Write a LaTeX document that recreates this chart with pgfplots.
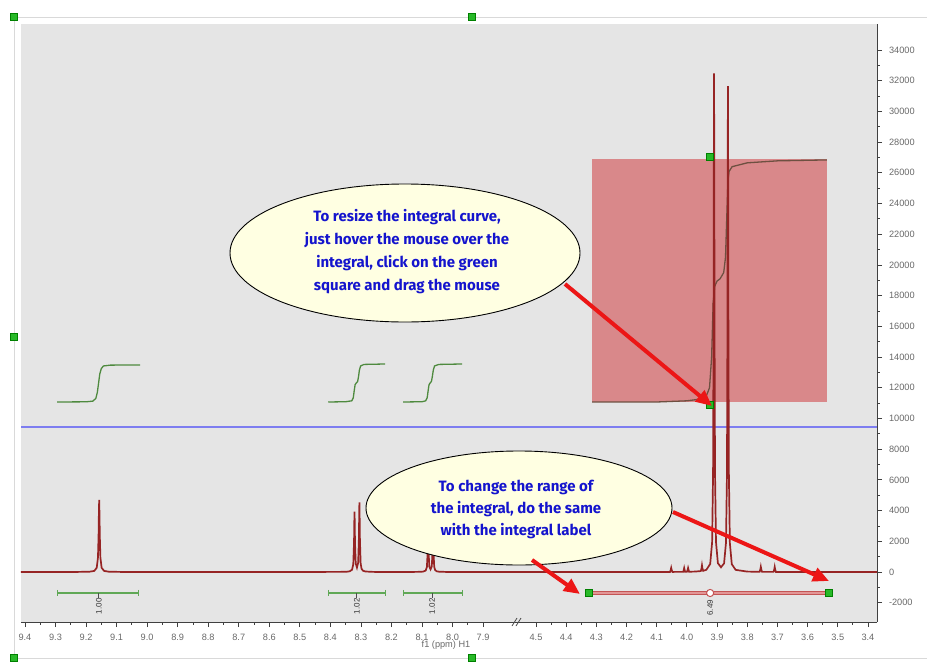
\documentclass[border=0pt]{standalone}
\usepackage{pgfplots}
\pgfplotsset{compat=1.18}
\usetikzlibrary{arrows.meta}
\usepackage{fontspec}
\setmainfont{Liberation Sans}
\newfontfamily\callfont{Fira Sans}

\definecolor{bggray}{RGB}{229,229,229}
\definecolor{specred}{RGB}{150,36,36}
\definecolor{intgreen}{RGB}{78,138,62}
\definecolor{intdark}{RGB}{110,80,65}
\definecolor{bargreen}{RGB}{96,168,86}
\definecolor{pinkfill}{RGB}{217,136,138}
\definecolor{lineblue}{RGB}{125,125,240}
\definecolor{ticklab}{RGB}{105,105,105}
\definecolor{callblue}{RGB}{20,20,205}
\definecolor{ivory}{RGB}{255,255,226}
\definecolor{arrred}{RGB}{236,22,22}
\definecolor{handle}{RGB}{40,185,40}
\definecolor{barred}{RGB}{196,84,84}
\definecolor{barpink}{RGB}{226,150,150}

\pgfplotsset{
  nmr/.style={
    scale only axis, anchor=north west,
    height=299pt, ymin=-3257, ymax=35693,
    x dir=reverse,
    axis background/.style={fill=bggray},
    axis x line*=bottom,
    tick align=outside,
    major tick length=2.5pt, minor tick length=1.4pt,
    tick style={draw=black!75, line width=0.4pt},
    axis line style={draw=black!75, line width=0.5pt},
    tick label style={font=\fontsize{4.6}{5}\selectfont, text=ticklab},
    /pgf/number format/assume math mode=true,
    xticklabel style={/pgf/number format/.cd, fixed, fixed zerofill, precision=1},
    minor x tick num=1,
    scaled y ticks=false,
  },
}

\begin{document}
\begin{tikzpicture}
% left part of the broken ppm axis
\begin{axis}[nmr, at={(10.5pt,-12pt)}, width=248pt,
  xmin=7.789, xmax=9.413,
  xtick={7.9,8.0,8.1,8.2,8.3,8.4,8.5,8.6,8.7,8.8,8.9,9.0,9.1,9.2,9.3,9.4},
  axis y line=none]
\addplot[lineblue, line width=0.6pt] coordinates {(7.789,9446) (9.413,9446)};
% integrals
\addplot[intgreen, line width=0.65pt] coordinates {
 (9.295,11073) (9.20,11085) (9.178,11130) (9.168,11300) (9.163,11700)
 (9.159,12300) (9.155,12900) (9.150,13250) (9.143,13420) (9.12,13475) (9.023,13483)};
\addplot[intgreen, line width=0.65pt] coordinates {
 (8.407,11073) (8.35,11090) (8.33,11150) (8.325,11350) (8.322,11800) (8.319,12200)
 (8.315,12320) (8.311,12400) (8.308,12700) (8.305,13150) (8.301,13420) (8.29,13520) (8.221,13548)};
\addplot[intgreen, line width=0.65pt] coordinates {
 (8.162,11073) (8.10,11090) (8.088,11150) (8.083,11350) (8.080,11800) (8.077,12200)
 (8.073,12320) (8.069,12420) (8.066,12750) (8.063,13150) (8.059,13420) (8.045,13520) (7.969,13548)};
% spectrum
\addplot[specred, line width=0.85pt] coordinates {
 (7.789,0) (8.019,4) (8.044,19) (8.052,47) (8.057,125) (8.060,335) (8.0625,1318)
 (8.0633,2155) (8.064,2622) (8.0648,2049) (8.0655,1326) (8.068,359) (8.072,173)
 (8.076,348) (8.0785,1278) (8.0793,2077) (8.080,2523) (8.0808,1968) (8.0815,1269)
 (8.084,322) (8.088,95) (8.096,28) (8.104,13) (8.129,5) (8.2,2)
 (8.26,7) (8.285,32) (8.293,80) (8.298,214) (8.301,578) (8.3035,2278) (8.3043,3726)
 (8.305,4534) (8.3058,3543) (8.3065,2291) (8.309,616) (8.313,286) (8.317,550)
 (8.3195,1998) (8.3203,3246) (8.321,3939) (8.3218,3073) (8.3225,1983) (8.325,506)
 (8.329,150) (8.337,44) (8.345,21) (8.37,8) (8.6,1)
 (9.077,3) (9.125,18) (9.141,72) (9.149,276) (9.153,940) (9.155,2350) (9.156,3760)
 (9.157,4700) (9.158,3760) (9.159,2350) (9.161,940) (9.165,276) (9.173,72)
 (9.189,18) (9.237,3) (9.413,0)};
% integral label bars
\addplot[bargreen, line width=0.6pt, mark=|, mark size=1.6pt, mark options={line width=0.5pt}]
 coordinates {(9.295,-1368) (9.027,-1368)};
\addplot[bargreen, line width=0.6pt, mark=|, mark size=1.6pt, mark options={line width=0.5pt}]
 coordinates {(8.407,-1368) (8.218,-1368)};
\addplot[bargreen, line width=0.6pt, mark=|, mark size=1.6pt, mark options={line width=0.5pt}]
 coordinates {(8.162,-1368) (7.969,-1368)};
\addplot[black!70, line width=0.5pt] coordinates {(9.158,-1368) (9.158,-1720)};
\addplot[black!70, line width=0.5pt] coordinates {(8.313,-1368) (8.313,-1720)};
\addplot[black!70, line width=0.5pt] coordinates {(8.067,-1368) (8.067,-1720)};
\node[rotate=90, font=\fontsize{4}{4}\selectfont, text=black!80] at (axis cs:9.158,-2230) {1.00};
\node[rotate=90, font=\fontsize{4}{4}\selectfont, text=black!80] at (axis cs:8.313,-2230) {1.02};
\node[rotate=90, font=\fontsize{4}{4}\selectfont, text=black!80] at (axis cs:8.067,-2230) {1.02};
\end{axis}

% right part of the broken ppm axis
\begin{axis}[nmr, at={(258.5pt,-12pt)}, width=180pt,
  xmin=3.37, xmax=4.563,
  xtick={3.4,3.5,3.6,3.7,3.8,3.9,4.0,4.1,4.2,4.3,4.4,4.5},
  axis y line*=right,
  ytick={-2000,0,2000,4000,6000,8000,10000,12000,14000,16000,18000,20000,22000,24000,26000,28000,30000,32000,34000},
  minor y tick num=1,
  yticklabel style={/pgf/number format/.cd, fixed, 1000 sep={}}]
\addplot[fill=pinkfill, draw=none] coordinates {
 (4.314,11073) (3.536,11073) (3.536,26900) (4.314,26900) (4.314,11073)};
\addplot[lineblue, line width=0.6pt] coordinates {(3.37,9446) (4.563,9446)};
\addplot[intdark, line width=0.65pt] coordinates {
 (4.314,11073) (4.10,11073) (4.00,11150) (3.96,11250) (3.935,11500) (3.925,12000)
 (3.918,14000) (3.913,17500) (3.908,18600) (3.900,18950) (3.89,19100) (3.878,19500)
 (3.872,20500) (3.868,23000) (3.864,25500) (3.86,26100) (3.85,26400) (3.80,26650)
 (3.70,26780) (3.536,26840)};
\addplot[specred, line width=0.85pt] coordinates {
 (3.37,0) (3.60,2) (3.70,5) (3.705,6) (3.7075,170) (3.709,330) (3.7105,170) (3.713,8)
 (3.751,10) (3.7535,180) (3.755,340) (3.7565,180) (3.759,12) (3.80,27)
 (3.8384,139) (3.8512,510) (3.8576,1889) (3.8608,6354) (3.8624,15837) (3.8632,25318)
 (3.864,31639) (3.8648,25321) (3.8656,15842) (3.8672,6365) (3.8704,1912) (3.8768,561)
 (3.887,308) (3.8972,572) (3.9036,1960) (3.9068,6532) (3.9084,16261) (3.9092,25992)
 (3.910,32478) (3.9108,25989) (3.9116,16256) (3.9132,6521) (3.9164,1937) (3.9228,522)
 (3.9356,142) (3.946,75) (3.9485,240) (3.95,430) (3.9515,230) (3.954,60) (3.974,27)
 (3.993,18) (3.9945,140) (3.996,260) (3.9975,130) (4.000,14) (4.006,12) (4.0075,130)
 (4.009,260) (4.0105,130) (4.012,10) (4.048,6) (4.0505,140) (4.052,270) (4.0535,140)
 (4.056,6) (4.2,2) (4.563,0)};
\addplot[only marks, mark=square*, mark size=1.8pt, mark options={fill=handle, draw=black!50!green, line width=0.3pt}]
 coordinates {(3.923,27030) (3.923,10877)};
% selected integral label bar
\addplot[barred, line width=2.2pt] coordinates {(4.324,-1368) (3.529,-1368)};
\addplot[barpink, line width=0.9pt] coordinates {(4.324,-1368) (3.529,-1368)};
\addplot[only marks, mark=square*, mark size=1.8pt, mark options={fill=handle, draw=black!50!green, line width=0.3pt}]
 coordinates {(4.324,-1368) (3.529,-1368)};
\addplot[only marks, mark=*, mark size=1.8pt, mark options={fill=white, draw=barred, line width=0.5pt}]
 coordinates {(3.923,-1368)};
\node[rotate=90, font=\fontsize{4}{4}\selectfont, text=black!80] at (axis cs:3.923,-2330) {6.49};
\end{axis}

\begin{scope}[x=0.5pt,y=-0.5pt]
% window frame and selection handles
\draw[black!15, line width=0.5pt] (927,17) -- (14,17) -- (14,658) -- (927,658);
\foreach \p in {(14,17),(472,17),(14,337),(14,658),(472,658)}
  \filldraw[fill=handle, draw=black!50!green, line width=0.3pt] \p +(-3.5,-3.5) rectangle +(3.5,3.5);
% axis break mark
\draw[black!70, line width=0.4pt] (512,626) -- (517,618) (516,626) -- (521,618);
\node[font=\fontsize{4.6}{5}\selectfont, text=ticklab] at (446,645) {f1 (ppm) H1};
% callouts
\draw[fill=ivory, draw=black, line width=0.45pt] (405,253) ellipse [x radius=175, y radius=69];
\node[align=center, text=callblue, font=\callfont\bfseries\fontsize{7.5}{11.5}\selectfont]
  at (407,252) {To resize the integral curve,\\just hover the mouse over the\\integral, click on the green\\square and drag the mouse};
\draw[fill=ivory, draw=black, line width=0.45pt] (519,508) ellipse [x radius=153, y radius=57];
\node[align=center, text=callblue, font=\callfont\bfseries\fontsize{7.5}{11}\selectfont]
  at (516,509) {To change the range of\\the integral, do the same\\with the integral label};
\draw[arrred, line width=2pt, -{Triangle[length=8pt,width=7pt]}] (565,284) -- (712,406);
\draw[arrred, line width=2pt, -{Triangle[length=8pt,width=7pt]}] (532,560) -- (580,594);
\draw[arrred, line width=2pt, -{Triangle[length=8pt,width=7pt]}] (673,512) -- (829,581);
\pgfresetboundingbox
\path[use as bounding box] (0,0) rectangle (927,664);
\end{scope}
\end{tikzpicture}
\end{document}
